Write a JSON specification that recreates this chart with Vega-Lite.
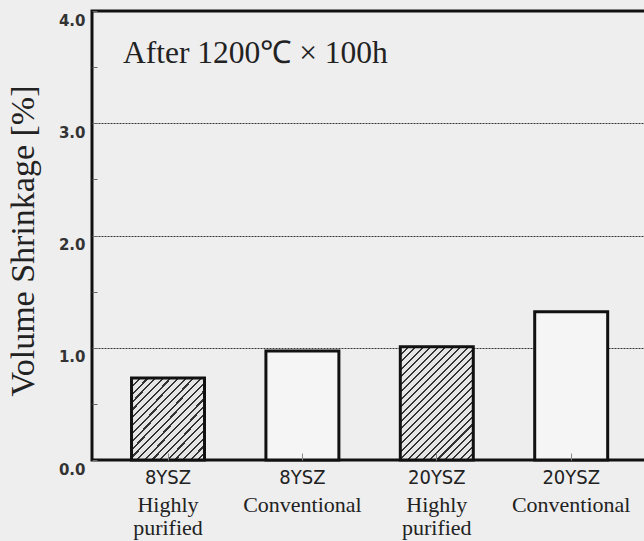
{
  "$schema": "https://vega.github.io/schema/vega-lite/v6.json",
  "autosize": "none",
  "padding": {"left": 92, "top": 11, "right": 0, "bottom": 81},
  "width": 560,
  "height": 449,
  "background": "#eeeeee",
  "title": {"text": "After 1200℃ × 100h", "anchor": "start", "frame": "group", "offset": 0, "dx": 31, "dy": 84, "baseline": "alphabetic", "font": "Liberation Serif", "fontSize": 31.5, "fontWeight": "normal", "color": "#222222"},
  "data": {"values": [
    {"sample": "8YSZ Highly purified", "material": "8YSZ", "grade": "Highly\npurified", "shrinkage": 0.73, "type": "hatched"},
    {"sample": "8YSZ Conventional", "material": "8YSZ", "grade": "Conventional", "shrinkage": 0.97, "type": "plain"},
    {"sample": "20YSZ Highly purified", "material": "20YSZ", "grade": "Highly\npurified", "shrinkage": 1.01, "type": "hatched"},
    {"sample": "20YSZ Conventional", "material": "20YSZ", "grade": "Conventional", "shrinkage": 1.32, "type": "plain"}
  ]},
  "encoding": {
    "x": {"field": "sample", "type": "nominal", "sort": null,
      "scale": {"domain": ["8YSZ Highly purified", "8YSZ Conventional", "20YSZ Highly purified", "20YSZ Conventional"], "paddingInner": 0.457, "paddingOuter": 0.3119, "align": 0.4714},
      "axis": {"title": null, "labelExpr": "split(datum.label, ' ')[0]", "labelFont": "Liberation Sans Narrow, DejaVu Sans Condensed, sans-serif", "labelFontSize": 20, "labelColor": "#222222", "labelAngle": 0, "labelBaseline": "top", "labelPadding": 14, "tickSize": -7, "tickColor": "#888888", "tickWidth": 1, "domain": false, "grid": false, "zindex": 1}},
    "y": {"field": "shrinkage", "type": "quantitative",
      "scale": {"domain": [0, 4], "nice": false},
      "axis": {"title": "Volume Shrinkage [%]", "titleFont": "Liberation Serif", "titleFontSize": 34, "titleFontWeight": "normal", "titleColor": "#222222", "titleX": -59, "titleY": 229.5, "titleBaseline": "alphabetic", "titleAngle": -90,
        "values": [0, 0.5, 1, 1.5, 2, 2.5, 3, 3.5, 4],
        "labelExpr": "datum.value % 1 === 0 ? format(datum.value, '.1f') : ''",
        "labelFont": "DejaVu Sans", "labelFontWeight": "bold", "labelFontSize": 15, "labelColor": "#333333", "labelOffset": 9, "labelPadding": 12, "labelOverlap": false, "labelBound": false, "labelFlush": false,
        "tickSize": -5, "tickColor": "#666666", "tickWidth": 1, "domain": false,
        "grid": true, "gridColor": "#333333", "gridWidth": 1, "gridDash": [2, 1],
        "gridOpacity": {"condition": {"test": "datum.value % 1 === 0 && datum.value > 0 && datum.value < 4", "value": 1}, "value": 0}}}
  },
  "layer": [
    {
      "transform": [{"filter": "datum.sample === '8YSZ Highly purified'"}],
      "mark": {"type": "bar", "stroke": "#111111", "strokeWidth": 3,
        "fill": {"gradient": "linear", "x1": 0, "y1": 0, "x2": 0.953, "y2": 1.043, "stops": [
          {"offset": 0, "color": "#333333"}, {"offset": 0.014, "color": "#333333"}, {"offset": 0.014, "color": "#e6e6e6"}, {"offset": 0.05, "color": "#e6e6e6"},
          {"offset": 0.05, "color": "#333333"}, {"offset": 0.064, "color": "#333333"}, {"offset": 0.064, "color": "#e6e6e6"}, {"offset": 0.1, "color": "#e6e6e6"},
          {"offset": 0.1, "color": "#333333"}, {"offset": 0.114, "color": "#333333"}, {"offset": 0.114, "color": "#e6e6e6"}, {"offset": 0.15, "color": "#e6e6e6"},
          {"offset": 0.15, "color": "#333333"}, {"offset": 0.164, "color": "#333333"}, {"offset": 0.164, "color": "#e6e6e6"}, {"offset": 0.2, "color": "#e6e6e6"},
          {"offset": 0.2, "color": "#333333"}, {"offset": 0.214, "color": "#333333"}, {"offset": 0.214, "color": "#e6e6e6"}, {"offset": 0.25, "color": "#e6e6e6"},
          {"offset": 0.25, "color": "#333333"}, {"offset": 0.264, "color": "#333333"}, {"offset": 0.264, "color": "#e6e6e6"}, {"offset": 0.3, "color": "#e6e6e6"},
          {"offset": 0.3, "color": "#333333"}, {"offset": 0.314, "color": "#333333"}, {"offset": 0.314, "color": "#e6e6e6"}, {"offset": 0.35, "color": "#e6e6e6"},
          {"offset": 0.35, "color": "#333333"}, {"offset": 0.364, "color": "#333333"}, {"offset": 0.364, "color": "#e6e6e6"}, {"offset": 0.4, "color": "#e6e6e6"},
          {"offset": 0.4, "color": "#333333"}, {"offset": 0.414, "color": "#333333"}, {"offset": 0.414, "color": "#e6e6e6"}, {"offset": 0.45, "color": "#e6e6e6"},
          {"offset": 0.45, "color": "#333333"}, {"offset": 0.464, "color": "#333333"}, {"offset": 0.464, "color": "#e6e6e6"}, {"offset": 0.5, "color": "#e6e6e6"},
          {"offset": 0.5, "color": "#333333"}, {"offset": 0.514, "color": "#333333"}, {"offset": 0.514, "color": "#e6e6e6"}, {"offset": 0.55, "color": "#e6e6e6"},
          {"offset": 0.55, "color": "#333333"}, {"offset": 0.564, "color": "#333333"}, {"offset": 0.564, "color": "#e6e6e6"}, {"offset": 0.6, "color": "#e6e6e6"},
          {"offset": 0.6, "color": "#333333"}, {"offset": 0.614, "color": "#333333"}, {"offset": 0.614, "color": "#e6e6e6"}, {"offset": 0.65, "color": "#e6e6e6"},
          {"offset": 0.65, "color": "#333333"}, {"offset": 0.664, "color": "#333333"}, {"offset": 0.664, "color": "#e6e6e6"}, {"offset": 0.7, "color": "#e6e6e6"},
          {"offset": 0.7, "color": "#333333"}, {"offset": 0.714, "color": "#333333"}, {"offset": 0.714, "color": "#e6e6e6"}, {"offset": 0.75, "color": "#e6e6e6"},
          {"offset": 0.75, "color": "#333333"}, {"offset": 0.764, "color": "#333333"}, {"offset": 0.764, "color": "#e6e6e6"}, {"offset": 0.8, "color": "#e6e6e6"},
          {"offset": 0.8, "color": "#333333"}, {"offset": 0.814, "color": "#333333"}, {"offset": 0.814, "color": "#e6e6e6"}, {"offset": 0.85, "color": "#e6e6e6"},
          {"offset": 0.85, "color": "#333333"}, {"offset": 0.864, "color": "#333333"}, {"offset": 0.864, "color": "#e6e6e6"}, {"offset": 0.9, "color": "#e6e6e6"},
          {"offset": 0.9, "color": "#333333"}, {"offset": 0.914, "color": "#333333"}, {"offset": 0.914, "color": "#e6e6e6"}, {"offset": 0.95, "color": "#e6e6e6"},
          {"offset": 0.95, "color": "#333333"}, {"offset": 0.964, "color": "#333333"}, {"offset": 0.964, "color": "#e6e6e6"}, {"offset": 1, "color": "#e6e6e6"}
        ]}}
    },
    {
      "transform": [{"filter": "datum.sample === '20YSZ Highly purified'"}],
      "mark": {"type": "bar", "stroke": "#111111", "strokeWidth": 3,
        "fill": {"gradient": "linear", "x1": 0, "y1": 0, "x2": 0.748, "y2": 1.162, "stops": [
          {"offset": 0, "color": "#333333"}, {"offset": 0.011, "color": "#333333"}, {"offset": 0.011, "color": "#e6e6e6"}, {"offset": 0.04, "color": "#e6e6e6"},
          {"offset": 0.04, "color": "#333333"}, {"offset": 0.051, "color": "#333333"}, {"offset": 0.051, "color": "#e6e6e6"}, {"offset": 0.08, "color": "#e6e6e6"},
          {"offset": 0.08, "color": "#333333"}, {"offset": 0.091, "color": "#333333"}, {"offset": 0.091, "color": "#e6e6e6"}, {"offset": 0.12, "color": "#e6e6e6"},
          {"offset": 0.12, "color": "#333333"}, {"offset": 0.131, "color": "#333333"}, {"offset": 0.131, "color": "#e6e6e6"}, {"offset": 0.16, "color": "#e6e6e6"},
          {"offset": 0.16, "color": "#333333"}, {"offset": 0.171, "color": "#333333"}, {"offset": 0.171, "color": "#e6e6e6"}, {"offset": 0.2, "color": "#e6e6e6"},
          {"offset": 0.2, "color": "#333333"}, {"offset": 0.211, "color": "#333333"}, {"offset": 0.211, "color": "#e6e6e6"}, {"offset": 0.24, "color": "#e6e6e6"},
          {"offset": 0.24, "color": "#333333"}, {"offset": 0.251, "color": "#333333"}, {"offset": 0.251, "color": "#e6e6e6"}, {"offset": 0.28, "color": "#e6e6e6"},
          {"offset": 0.28, "color": "#333333"}, {"offset": 0.291, "color": "#333333"}, {"offset": 0.291, "color": "#e6e6e6"}, {"offset": 0.32, "color": "#e6e6e6"},
          {"offset": 0.32, "color": "#333333"}, {"offset": 0.331, "color": "#333333"}, {"offset": 0.331, "color": "#e6e6e6"}, {"offset": 0.36, "color": "#e6e6e6"},
          {"offset": 0.36, "color": "#333333"}, {"offset": 0.371, "color": "#333333"}, {"offset": 0.371, "color": "#e6e6e6"}, {"offset": 0.4, "color": "#e6e6e6"},
          {"offset": 0.4, "color": "#333333"}, {"offset": 0.411, "color": "#333333"}, {"offset": 0.411, "color": "#e6e6e6"}, {"offset": 0.44, "color": "#e6e6e6"},
          {"offset": 0.44, "color": "#333333"}, {"offset": 0.451, "color": "#333333"}, {"offset": 0.451, "color": "#e6e6e6"}, {"offset": 0.48, "color": "#e6e6e6"},
          {"offset": 0.48, "color": "#333333"}, {"offset": 0.491, "color": "#333333"}, {"offset": 0.491, "color": "#e6e6e6"}, {"offset": 0.52, "color": "#e6e6e6"},
          {"offset": 0.52, "color": "#333333"}, {"offset": 0.531, "color": "#333333"}, {"offset": 0.531, "color": "#e6e6e6"}, {"offset": 0.56, "color": "#e6e6e6"},
          {"offset": 0.56, "color": "#333333"}, {"offset": 0.571, "color": "#333333"}, {"offset": 0.571, "color": "#e6e6e6"}, {"offset": 0.6, "color": "#e6e6e6"},
          {"offset": 0.6, "color": "#333333"}, {"offset": 0.611, "color": "#333333"}, {"offset": 0.611, "color": "#e6e6e6"}, {"offset": 0.64, "color": "#e6e6e6"},
          {"offset": 0.64, "color": "#333333"}, {"offset": 0.651, "color": "#333333"}, {"offset": 0.651, "color": "#e6e6e6"}, {"offset": 0.68, "color": "#e6e6e6"},
          {"offset": 0.68, "color": "#333333"}, {"offset": 0.691, "color": "#333333"}, {"offset": 0.691, "color": "#e6e6e6"}, {"offset": 0.72, "color": "#e6e6e6"},
          {"offset": 0.72, "color": "#333333"}, {"offset": 0.731, "color": "#333333"}, {"offset": 0.731, "color": "#e6e6e6"}, {"offset": 0.76, "color": "#e6e6e6"},
          {"offset": 0.76, "color": "#333333"}, {"offset": 0.771, "color": "#333333"}, {"offset": 0.771, "color": "#e6e6e6"}, {"offset": 0.8, "color": "#e6e6e6"},
          {"offset": 0.8, "color": "#333333"}, {"offset": 0.811, "color": "#333333"}, {"offset": 0.811, "color": "#e6e6e6"}, {"offset": 0.84, "color": "#e6e6e6"},
          {"offset": 0.84, "color": "#333333"}, {"offset": 0.851, "color": "#333333"}, {"offset": 0.851, "color": "#e6e6e6"}, {"offset": 0.88, "color": "#e6e6e6"},
          {"offset": 0.88, "color": "#333333"}, {"offset": 0.891, "color": "#333333"}, {"offset": 0.891, "color": "#e6e6e6"}, {"offset": 0.92, "color": "#e6e6e6"},
          {"offset": 0.92, "color": "#333333"}, {"offset": 0.931, "color": "#333333"}, {"offset": 0.931, "color": "#e6e6e6"}, {"offset": 0.96, "color": "#e6e6e6"},
          {"offset": 0.96, "color": "#333333"}, {"offset": 0.971, "color": "#333333"}, {"offset": 0.971, "color": "#e6e6e6"}, {"offset": 1, "color": "#e6e6e6"}
        ]}}
    },
    {
      "transform": [{"filter": "datum.type === 'plain'"}],
      "mark": {"type": "bar", "fill": "#f5f5f5", "stroke": "#111111", "strokeWidth": 3}
    },
    {
      "mark": {"type": "text", "font": "Liberation Serif", "fontSize": 22, "lineBreak": "\n", "lineHeight": 22.5, "baseline": "alphabetic", "align": "center", "color": "#222222"},
      "encoding": {
        "y": {"datum": -0.465, "type": "quantitative"},
        "text": {"field": "grade"}
      }
    }
  ],
  "config": {
    "view": {"stroke": "#111111", "strokeWidth": 3}
  }
}
